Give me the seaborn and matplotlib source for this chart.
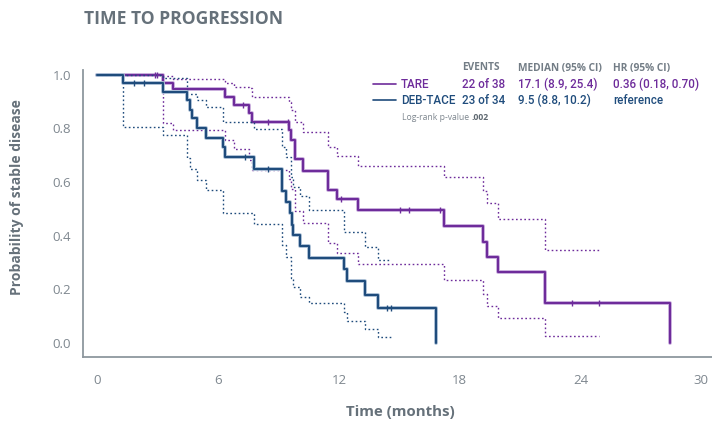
import numpy as np
import pandas as pd
import matplotlib
matplotlib.use("Agg")
import matplotlib.pyplot as plt
import matplotlib.patheffects as pe
from matplotlib.lines import Line2D
import seaborn as sns

# ---------------- data ----------------
tare_t = [0, 3.26, 3.76, 6.34, 6.79, 7.53, 7.68, 9.50, 9.62, 9.80, 10.23, 11.44,
          11.89, 12.96, 17.23, 19.15, 19.35, 19.90, 22.22, 28.44]
tare_s = [1.0, 0.971, 0.946, 0.918, 0.886, 0.856, 0.825, 0.795, 0.757, 0.685, 0.642,
          0.570, 0.535, 0.494, 0.436, 0.377, 0.321, 0.263, 0.150, 0.0]
tare_ci_t = [0, 3.26, 3.76, 6.34, 6.79, 7.53, 7.68, 9.50, 9.62, 9.80, 10.23, 11.44,
             11.89, 12.96, 17.23, 19.15, 19.35, 19.90, 22.22, 24.93]
tare_upper = [1.0, 0.995, 0.986, 0.971, 0.956, 0.950, 0.918, 0.900, 0.868, 0.825, 0.788,
              0.732, 0.697, 0.660, 0.618, 0.568, 0.521, 0.462, 0.347, 0.347]
tare_lower = [1.0, 0.819, 0.794, 0.757, 0.722, 0.683, 0.645, 0.610, 0.575, 0.490, 0.446,
              0.371, 0.336, 0.294, 0.234, 0.182, 0.137, 0.094, 0.025, 0.025]
tare_cens = [2.86, 2.96, 7.23, 8.48, 9.45, 12.09, 15.03, 15.49, 17.02, 23.6, 24.93]

deb_t = [0, 1.29, 3.27, 4.47, 4.60, 4.68, 4.96, 5.39, 6.25, 6.35, 7.78, 9.15, 9.37,
         9.58, 9.66, 9.73, 10.06, 10.53, 12.25, 12.39, 13.29, 13.95, 16.81]
deb_s = [1.0, 0.969, 0.937, 0.906, 0.869, 0.838, 0.800, 0.766, 0.731, 0.692, 0.650,
         0.567, 0.527, 0.483, 0.440, 0.402, 0.360, 0.317, 0.275, 0.232, 0.178, 0.128, 0.0]
deb_ci_t = [0, 1.29, 3.27, 4.47, 4.60, 4.96, 5.39, 6.25, 7.78, 9.15, 9.37, 9.60, 9.73,
            10.06, 10.53, 12.25, 12.39, 13.29, 13.95, 14.57]
deb_upper = [1.0, 0.998, 0.990, 0.928, 0.928, 0.906, 0.881, 0.825, 0.797, 0.732, 0.694,
             0.620, 0.583, 0.546, 0.496, 0.414, 0.414, 0.359, 0.310, 0.310]
deb_lower = [1.0, 0.805, 0.774, 0.688, 0.650, 0.607, 0.570, 0.485, 0.443, 0.365, 0.321,
             0.240, 0.207, 0.172, 0.147, 0.116, 0.082, 0.051, 0.020, 0.020]
deb_cens = [1.83, 2.33, 7.33, 8.49, 14.37, 14.57]

x_ticks = [0, 6, 12, 18, 24, 30]
y_ticks = [0.0, 0.2, 0.4, 0.6, 0.8, 1.0]

groups = ["TARE", "DEB-TACE"]
events = ["22 of 38", "23 of 34"]
medians = ["17.1 (8.9, 25.4)", "9.5 (8.8, 10.2)"]
hrs = ["0.36 (0.18, 0.70)", "reference"]

# ---------------- style ----------------
sns.set_theme(style="white")
plt.rcParams["font.family"] = ["Open Sans", "DejaVu Sans"]

PURPLE = "#6E2C9B"
PURPLE_L = "#CDB2E0"
BLUE = "#1F4C7C"
BLUE_L = "#B0C3D8"
GRAY_T = "#66717A"
GRAY_H = "#737D86"
GRAY_TICK = "#7E878F"
SPINE = "#8E979E"
NARROW = ["Roboto", "DejaVu Sans"]

W, H = 712, 421
fig = plt.figure(figsize=(W / 100, H / 100), dpi=100)
ax = fig.add_axes([83 / W, 1 - 357 / H, 1 - 83 / W, (357 - 70) / H])


def step_val(ts, ss, c):
    i = np.searchsorted(np.asarray(ts), c, side="right") - 1
    return ss[i]


def draw_group(t, s, ci_t, up, lo, cens, col, col_l):
    sns.lineplot(x=ci_t, y=up, ax=ax, drawstyle="steps-post", color=col,
                 linewidth=1.0, linestyle=(0, (1.2, 1.8)), estimator=None)
    sns.lineplot(x=ci_t, y=lo, ax=ax, drawstyle="steps-post", color=col,
                 linewidth=1.0, linestyle=(0, (1.2, 1.8)), estimator=None)
    sns.lineplot(x=t, y=s, ax=ax, drawstyle="steps-post", color=col,
                 linewidth=1.5, estimator=None,
                 path_effects=[pe.Stroke(linewidth=2.8, foreground=col_l), pe.Normal()])
    cy = [step_val(t, s, c) for c in cens]
    sns.scatterplot(x=cens, y=cy, ax=ax, marker="|", s=18, color=col,
                    linewidth=1.0, zorder=5)


draw_group(tare_t, tare_s, tare_ci_t, tare_upper, tare_lower, tare_cens, PURPLE, PURPLE_L)
draw_group(deb_t, deb_s, deb_ci_t, deb_upper, deb_lower, deb_cens, BLUE, BLUE_L)

ax.set_xlim(-0.715, 30.53)
ax.set_ylim(-0.053, 1.018)
ax.set_xticks(x_ticks)
ax.set_xticklabels([str(v) for v in x_ticks])
ax.set_yticks(y_ticks)
ax.set_yticklabels([f"{v:.1f}" for v in y_ticks])
ax.tick_params(axis="both", length=0, labelsize=9.5, labelcolor=GRAY_TICK)
ax.tick_params(axis="x", pad=12.5)
ax.tick_params(axis="y", pad=8.5)
ax.set_xlabel("")
ax.set_ylabel("")
for side in ["top", "right"]:
    ax.spines[side].set_visible(False)
for side in ["left", "bottom"]:
    ax.spines[side].set_color(SPINE)
    ax.spines[side].set_linewidth(1.3)
ax.grid(False)


def fx(px):
    return px / W


def fy(py):
    return 1 - py / H


fig.text(fx(84), fy(19), "TIME TO PROGRESSION", ha="left", va="center",
         fontsize=12.6, fontweight="bold", color=GRAY_T)
fig.text(fx(17), fy(197), "Probability of stable disease", rotation=90,
         ha="center", va="center", fontsize=10, fontweight="bold", color=GRAY_T)
fig.text(fx(400), fy(412), "Time (months)", ha="center", va="center",
         fontsize=10.8, fontweight="bold", color=GRAY_T)

# legend table
hdr_kw = dict(ha="left", va="center", fontsize=7.3, fontweight="bold", color=GRAY_H)
fig.text(fx(461.7), fy(68), "EVENTS", **hdr_kw)
fig.text(fx(518.3), fy(68), "MEDIAN (95% CI)", **hdr_kw)
fig.text(fx(613.3), fy(68), "HR (95% CI)", **hdr_kw)

row_y = [84, 100]
cols = [PURPLE, BLUE]
for i in range(2):
    fig.add_artist(Line2D([fx(373), fx(396)], [fy(row_y[i]), fy(row_y[i])],
                          color=cols[i], linewidth=1.2, transform=fig.transFigure))
    kw = dict(ha="left", va="center", fontsize=8.4, color=cols[i], family=NARROW,
              fontweight="medium")
    fig.text(fx(400.7), fy(row_y[i]), groups[i], **kw)
    fig.text(fx(461.7), fy(row_y[i]), events[i], **kw)
    fig.text(fx(518.3), fy(row_y[i]), medians[i], **kw)
    fig.text(fx(613.3), fy(row_y[i]), hrs[i], **kw)

t1 = fig.text(fx(401.7), fy(118), "Log-rank p-value ", ha="left", va="center",
              fontsize=6.2, color=GRAY_TICK)
fig.canvas.draw()
bb = t1.get_window_extent()
fig.text(bb.x1 / W, fy(118), ".002", ha="left", va="center", fontsize=6.2,
         fontweight="bold", color="#5E6870")

fig.savefig("out.png", dpi=100)
